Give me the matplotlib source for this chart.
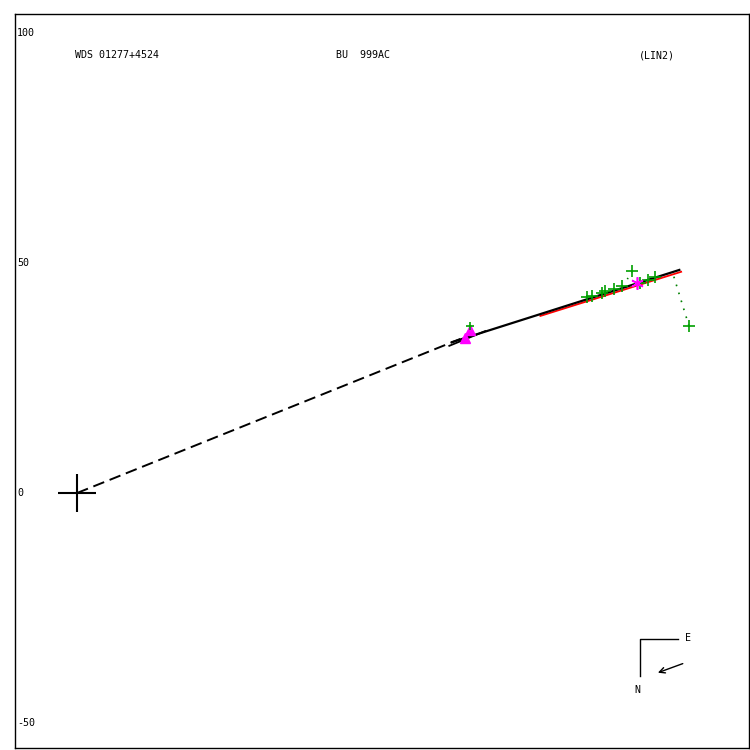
import numpy as np
import matplotlib
matplotlib.use("Agg")
import matplotlib.pyplot as plt

# observations (micrometer, green +)
obs_x = [110.9, 112.0, 114.1, 114.8, 116.7, 118.5, 120.7, 122.4, 124.1, 125.7, 133.0, 85.4]
obs_y = [42.6, 42.8, 43.5, 43.9, 44.3, 45.0, 48.3, 45.7, 46.3, 47.0, 36.3, 36.3]
# residual links: observation -> predicted position
res_obs_x = [133.0, 120.7]
res_obs_y = [36.3, 48.3]
res_fit_x = [129.6, 119.6]
res_fit_y = [47.4, 46.5]

# other measures
star_x = [121.7]
star_y = [45.7]
tri_x = [85.4, 84.3]
tri_y = [35.4, 33.7]

# linear fit
fit_x = [81.5, 130.9]
fit_y = [32.8, 48.5]
eph_x = [100.7, 131.3]
eph_y = [38.7, 48.3]
near_x = [0.0, 83.3]
near_y = [0.0, 33.5]
seg_x = [80.9, 88.7]
seg_y = [32.0, 35.2]

yticks = [100, 50, 0, -50]

fig = plt.figure(figsize=(7.5, 7.5), dpi=100)
ax = fig.add_axes([0.02, 0.003, 0.979, 0.978])
ax.set_xlim(-13.5, 146.1)
ax.set_ylim(-55.4, 104.1)
ax.set_xticks([])
ax.set_yticks([])
for s in ax.spines.values():
    s.set_linewidth(1.0)

mono = "DejaVu Sans Mono"

ax.plot(near_x, near_y, color="black", ls=(0, (6, 3)), lw=1.4)
ax.plot(eph_x, [v - 0.2 for v in eph_y], color="red", lw=1.3)
ax.plot(fit_x, fit_y, color="black", lw=1.6)
ax.plot(seg_x, seg_y, color="black", lw=1.3)

for i in range(len(res_obs_x)):
    ax.plot([res_obs_x[i], res_fit_x[i]], [res_obs_y[i], res_fit_y[i]],
            color="green", ls=(0, (1, 4)), lw=1.2)

ax.plot(tri_x, tri_y, ls="none", marker="^", ms=7.5, color="#ff00ff", mec="#ff00ff")
ax.plot(obs_x[:-1], obs_y[:-1], ls="none", marker="+", ms=9, mew=1.2, color="#00a000")
ax.plot(obs_x[-1:], obs_y[-1:], ls="none", marker="+", ms=6, mew=1.2, color="#00a000")
ax.plot(star_x, star_y, ls="none", marker=(6, 2, 0), ms=9, mew=1.2, color="#ff00ff")

# primary
ax.plot([0], [0], ls="none", marker="+", ms=27, mew=1.5, color="black")

for v in yticks:
    ax.text(0.003, v, str(v), transform=ax.get_yaxis_transform(),
            fontsize=7.2, family=mono, va="center", ha="left")

ax.text(0.082, 0.944, "WDS 01277+4524", transform=ax.transAxes, fontsize=7.2, family=mono, va="center")
ax.text(0.437, 0.944, "BU  999AC", transform=ax.transAxes, fontsize=7.2, family=mono, va="center")
ax.text(0.849, 0.944, "(LIN2)", transform=ax.transAxes, fontsize=7.2, family=mono, va="center")

# compass
ax.plot([0.851, 0.851, 0.903], [0.098, 0.1485, 0.1485], color="black", lw=1.0, transform=ax.transAxes)
ax.text(0.917, 0.150, "E", transform=ax.transAxes, fontsize=7.2, family=mono, va="center", ha="center")
ax.text(0.847, 0.079, "N", transform=ax.transAxes, fontsize=7.2, family=mono, va="center", ha="center")
ax.annotate("", xy=(0.872, 0.101), xytext=(0.913, 0.116), xycoords="axes fraction",
            arrowprops=dict(arrowstyle="->", lw=1.0, color="black"))

fig.savefig("out.png", dpi=100)
